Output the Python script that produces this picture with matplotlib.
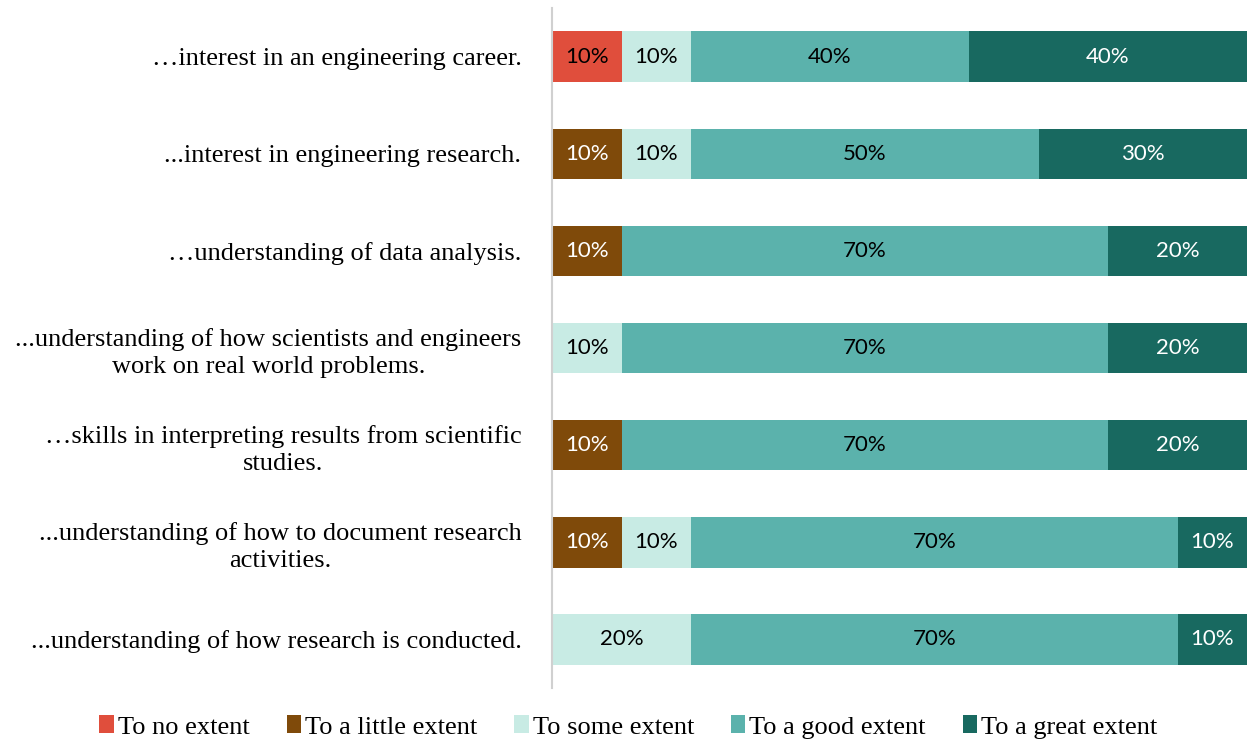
import matplotlib
matplotlib.use("Agg")
import matplotlib.pyplot as plt
import numpy as np

categories = [
    "\u2026interest in an engineering career.",
    "...interest in engineering research.",
    "\u2026understanding of data analysis.",
    "...understanding of how scientists and engineers\nwork on real world problems.",
    "\u2026skills in interpreting results from scientific\nstudies.",
    "...understanding of how to document research\nactivities.",
    "...understanding of how research is conducted.",
]
levels = ["To no extent", "To a little extent", "To some extent",
          "To a good extent", "To a great extent"]
no_extent = [10, 0, 0, 0, 0, 0, 0]
little_extent = [0, 10, 10, 0, 10, 10, 0]
some_extent = [10, 10, 0, 10, 0, 10, 20]
good_extent = [40, 50, 70, 70, 70, 70, 70]
great_extent = [40, 30, 20, 20, 20, 10, 10]

COLORS = ["#E04E3C", "#7F4A0A", "#C8EBE4", "#5BB2AC", "#186960"]
TEXT_COLORS = ["black", "white", "black", "black", "white"]

series = [no_extent, little_extent, some_extent, good_extent, great_extent]

fig = plt.figure(figsize=(12.47, 7.4), dpi=100)
ax = fig.add_axes([0.4427, 0.0703, 0.5573, 0.9187])

y = np.arange(len(categories))
left = np.zeros(len(categories))
for name, vals, c, tc in zip(levels, series, COLORS, TEXT_COLORS):
    vals = np.array(vals, dtype=float)
    ax.barh(y, vals, left=left, height=0.52, color=c, label=name)
    for yi, v, l in zip(y, vals, left):
        if v > 0:
            ax.text(l + v / 2, yi, f"{int(v)}%", ha="center", va="center",
                    fontsize=16, family="Lato", color=tc)
    left += vals

ax.set_xlim(0, 100)
ax.set_ylim(len(categories) - 0.5, -0.5)
ax.set_yticks(y)
ax.set_yticklabels(categories, family="Liberation Serif", fontsize=19,
                   multialignment="center", linespacing=1.3)
ax.tick_params(axis="y", length=0, pad=22)
ax.set_xticks([])
for s in ["top", "right", "bottom"]:
    ax.spines[s].set_visible(False)
ax.spines["left"].set_color("#d0d0d0")
ax.spines["left"].set_linewidth(1.5)

ax.legend(loc="center", bbox_to_anchor=(0.504, 1 - 727 / 740), ncol=5, frameon=False,
          prop={"family": "Liberation Serif", "size": 19}, handlelength=0.55,
          handleheight=0.65, handletextpad=0.15, columnspacing=1.4,
          bbox_transform=fig.transFigure, borderpad=0)

fig.savefig("out.png", dpi=100)
